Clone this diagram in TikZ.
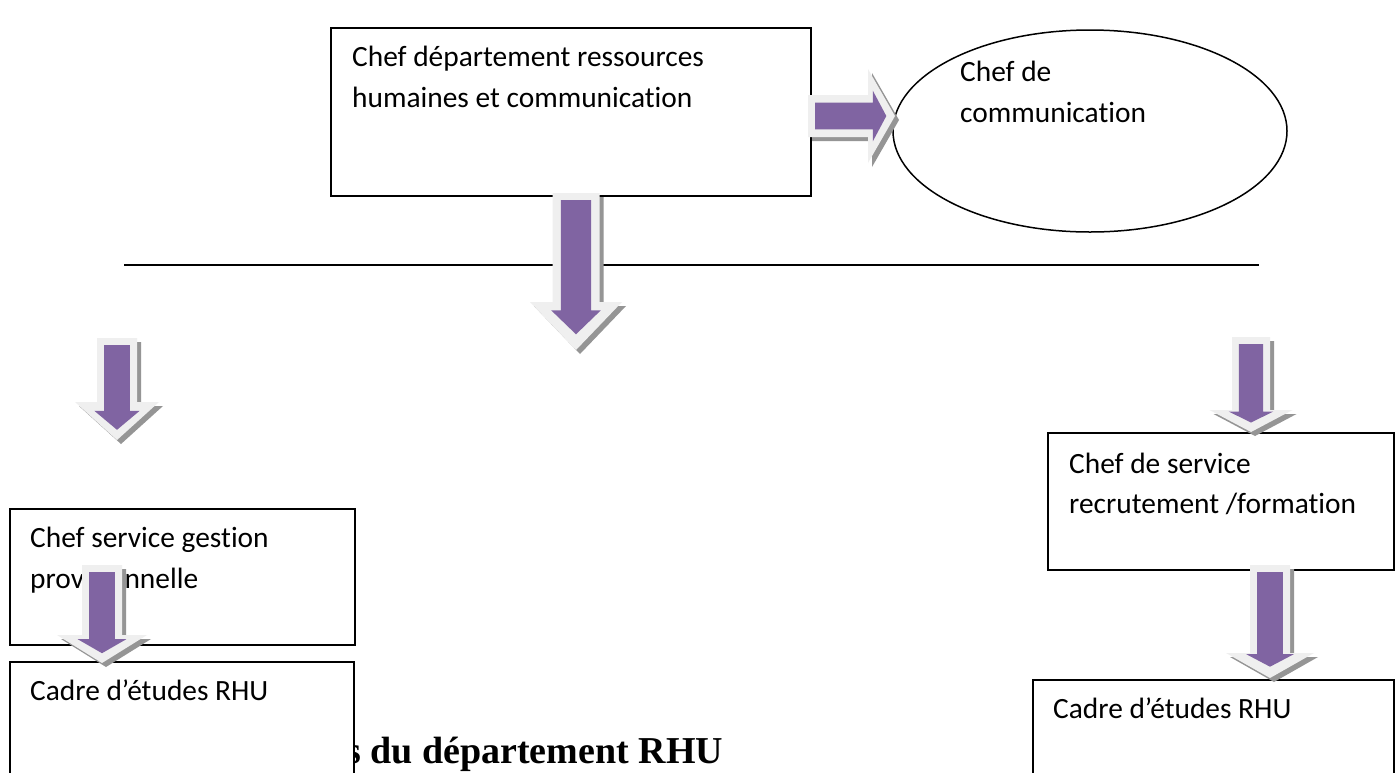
\documentclass[tikz,border=0pt]{standalone}
\usepackage{fontspec}
\setmainfont[Ligatures=NoCommon]{Carlito}
\newfontfamily\titrefont{Liberation Serif}
\usetikzlibrary{shapes.geometric}

\definecolor{mauve}{HTML}{8064A2}
\definecolor{bordfleche}{HTML}{EFEFEF}
\definecolor{ombrefleche}{HTML}{959595}

\tikzset{
  boite/.style={draw, line width=1.5pt, fill=white, anchor=north west, inner sep=0pt},
  texte/.style={anchor=base west, inner sep=0pt, font=\fontsize{29.4}{41}\selectfont},
}

% fleche : queue x, queue y, angle, longueur, corps, tete, longueur de la tete
\newcommand{\fleche}[7]{%
  \begin{scope}[shift={({#1+4},{#2+4})}, rotate=#3]
    \fill[ombrefleche] (0,{-#5/2}) -- ({#4-#7},{-#5/2}) -- ({#4-#7},{-#6/2}) -- (#4,0)
      -- ({#4-#7},{#6/2}) -- ({#4-#7},{#5/2}) -- (0,{#5/2}) -- cycle;
  \end{scope}
  \begin{scope}[shift={(#1,#2)}, rotate=#3]
    \fill[bordfleche] (0,{-#5/2}) -- ({#4-#7},{-#5/2}) -- ({#4-#7},{-#6/2}) -- (#4,0)
      -- ({#4-#7},{#6/2}) -- ({#4-#7},{#5/2}) -- (0,{#5/2}) -- cycle;
    \fill[mauve] (7,{-0.32*#5}) -- ({0.9*#4-0.5*#7},{-0.32*#5}) -- ({0.9*#4-0.5*#7},{-0.27*#6})
      -- ({0.9*#4},0) -- ({0.9*#4-0.5*#7},{0.27*#6}) -- ({0.9*#4-0.5*#7},{0.32*#5})
      -- (7,{0.32*#5}) -- cycle;
  \end{scope}}

\begin{document}
\begin{tikzpicture}[x=1pt, y=-1pt]
  \clip (0,0) rectangle (1399,772);
  \fill[white] (0,0) rectangle (1399,772);

  % La ligne
  \coordinate (g) at (124,265);
  \coordinate (d) at (1259,265);
  \draw[line width=1.2pt] (g) -- (d);

  % Les cadres
  \node[boite, minimum width=480pt, minimum height=168pt] (chef) at (330,27) {};
  \node[draw, line width=1.5pt, ellipse, minimum width=394pt, minimum height=202pt] (comm) at (1090,131) {};

  \node[anchor=base west, inner sep=0pt, font=\titrefont\bfseries\fontsize{38}{44}\selectfont] (titre) at (346,763) {s du département RHU};

  \node[boite, minimum width=345pt, minimum height=136pt] (gestion) at (9,508) {};
  \node[boite, minimum width=344pt, minimum height=140pt] (cadreg) at (9,661) {};
  \node[boite, minimum width=346pt, minimum height=137pt] (recrut) at (1047,432) {};
  \node[boite, minimum width=361pt, minimum height=120pt] (cadred) at (1032,679) {};

  % Les textes
  \node[texte] (chef1) at (352,66) {Chef département ressources};
  \node[texte] (chef2) at (352,107) {humaines et communication};
  \node[texte] (comm1) at (960,81) {Chef de};
  \node[texte] (comm2) at (960,122) {communication};
  \node[texte] (gestion1) at (30,547) {Chef service gestion};
  \node[texte] (gestion2) at (30,588) {provisionnelle};
  \node[texte] (cadreg1) at (30,700) {Cadre d’études RHU};
  \node[texte] (recrut1) at (1069,473) {Chef de service};
  \node[texte] (recrut2) at (1069,513) {recrutement /formation};
  \node[texte] (cadred1) at (1053,718) {Cadre d’études RHU};

  % Les fleches
  \fleche{808}{116}{0}{87}{42}{94}{27}
  \fleche{576}{193}{-90}{157}{47}{92}{48}
  \fleche{117}{338}{-90}{102}{40}{84}{38}
  \fleche{1251}{337}{-90}{95}{38}{83}{22}
  \fleche{1270}{565}{-90}{113}{40}{88}{25}
  \fleche{102}{565}{-90}{98}{40}{90}{28}

\end{tikzpicture}
\end{document}
